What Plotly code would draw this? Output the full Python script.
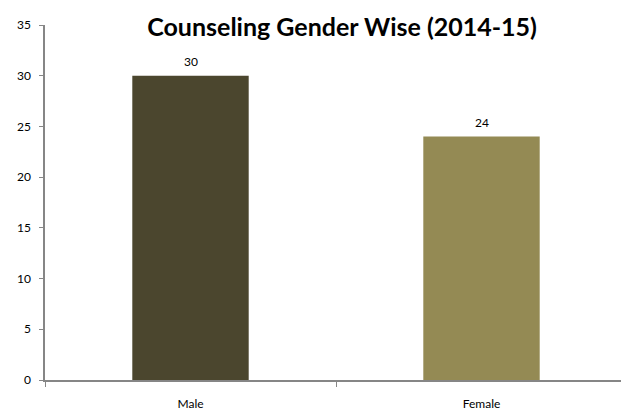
import plotly.graph_objects as go

categories = ["Male", "Female"]
values = [30, 24]
colors = ["#4B462E", "#948A54"]
y_ticks = [0, 5, 10, 15, 20, 25, 30, 35]

fig = go.Figure()
fig.add_trace(go.Bar(
    x=categories, y=values, marker=dict(color=colors, line=dict(width=0)),
    width=0.4, cliponaxis=False,
))
for c, v in zip(categories, values):
    fig.add_annotation(x=c, y=v, text=str(v), showarrow=False, yanchor="bottom",
                       yshift=5, font=dict(family="Lato", size=12, color="#000000"))
fig.update_layout(
    width=621, height=404,
    margin=dict(l=37, r=2, t=17, b=32),
    paper_bgcolor="white", plot_bgcolor="white",
    showlegend=False,
    title=dict(text="<b>Counseling Gender Wise (2014-15)</b>", x=0.538, xanchor="center",
               y=0.953, yanchor="middle",
               font=dict(family="Lato", size=25, color="#000000")),
    font=dict(family="Lato", size=12, color="#000000"),
)
fig.update_xaxes(
    showline=True, linecolor="#868686", linewidth=1.5,
    ticks="outside", ticklen=5, tickcolor="#868686", tickson="boundaries",
    ticklabelstandoff=12, showgrid=False, automargin=False,
)
fig.update_yaxes(
    range=[0, 35], tickvals=y_ticks, showline=True, linecolor="#868686", linewidth=1.5,
    ticks="outside", ticklen=4, tickcolor="#868686", showgrid=False, zeroline=False,
    ticklabelstandoff=6, automargin=False,
)
fig.write_html("out.html")
